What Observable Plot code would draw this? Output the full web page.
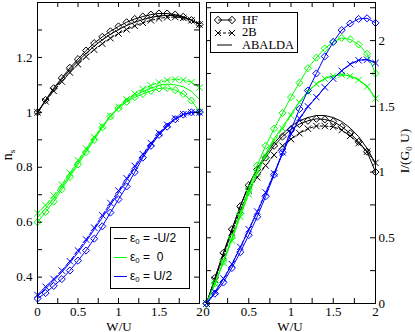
<!DOCTYPE html>
<html><head><meta charset="utf-8">
<script src="https://cdn.jsdelivr.net/npm/d3@7"></script>
<script src="https://cdn.jsdelivr.net/npm/@observablehq/plot@0.6"></script>
<style>
body{margin:0;background:#fff;}
#wrap{position:relative;width:415px;height:332px;overflow:hidden;font-family:"Liberation Serif","Times New Roman",serif;color:#000;}
#wrap svg, #wrap svg text{font-family:"Liberation Serif","Times New Roman",serif !important;font-size:13px !important;}
.abs{position:absolute;white-space:nowrap;line-height:1;}
.abs sub{font-size:65%;vertical-align:-0.3em;line-height:0;}
.sans{font-family:"Liberation Sans",Arial,sans-serif;}
</style></head><body><div id="wrap"></div>
<script>
// W/U grid
const W = [0,0.1,0.2,0.3,0.4,0.5,0.6,0.7,0.8,0.9,1,1.1,1.2,1.3,1.4,1.5,1.6,1.7,1.8,1.9,2];

// Left panel: n_s   (m: eps0=-U/2, 0: eps0=0, p: eps0=U/2)
const nsHF_m = [1.0,1.045,1.088,1.125,1.162,1.194,1.225,1.252,1.275,1.295,1.313,1.328,1.34,1.349,1.356,1.36,1.36,1.356,1.348,1.336,1.32];
const ns2B_m = [1.0,1.04,1.078,1.112,1.145,1.175,1.203,1.228,1.25,1.27,1.287,1.302,1.315,1.326,1.335,1.342,1.346,1.347,1.344,1.335,1.32];
const nsAB_m = [1.0,1.043,1.084,1.12,1.155,1.186,1.215,1.241,1.264,1.284,1.301,1.316,1.328,1.338,1.346,1.351,1.353,1.352,1.347,1.336,1.32];
const nsHF_0 = [0.6,0.637,0.675,0.72,0.765,0.81,0.855,0.9,0.945,0.985,1.015,1.038,1.055,1.067,1.078,1.087,1.089,1.081,1.067,1.043,1.003];
const ns2B_0 = [0.633,0.662,0.697,0.737,0.78,0.825,0.868,0.91,0.95,0.987,1.02,1.047,1.068,1.085,1.098,1.109,1.117,1.12,1.118,1.11,1.09];
const nsAB_0 = [0.617,0.65,0.686,0.728,0.772,0.817,0.861,0.905,0.947,0.986,1.017,1.042,1.061,1.076,1.088,1.098,1.103,1.1,1.093,1.077,1.047];
const nsHF_p = [0.322,0.342,0.368,0.393,0.424,0.46,0.497,0.54,0.585,0.635,0.683,0.73,0.782,0.835,0.878,0.918,0.948,0.975,0.992,1.0,1.0];
const ns2B_p = [0.335,0.365,0.393,0.424,0.458,0.497,0.537,0.58,0.625,0.67,0.715,0.76,0.805,0.848,0.888,0.925,0.955,0.978,0.993,1.0,1.0];
const nsAB_p = [0.33,0.358,0.387,0.418,0.452,0.49,0.53,0.573,0.617,0.662,0.707,0.752,0.797,0.841,0.882,0.92,0.951,0.976,0.992,1.0,1.0];

// Right panel: I/(G0 U)
const iHF_m = [0,0.195,0.385,0.565,0.74,0.9,1.02,1.11,1.2,1.27,1.325,1.365,1.39,1.405,1.4,1.385,1.345,1.295,1.23,1.155,1.0];
const i2B_m = [0,0.18,0.36,0.54,0.71,0.86,0.96,1.05,1.13,1.2,1.25,1.295,1.33,1.35,1.35,1.345,1.32,1.275,1.22,1.155,1.07];
const iAB_m = [0,0.19,0.38,0.56,0.74,0.9,1.03,1.13,1.22,1.29,1.35,1.39,1.415,1.43,1.43,1.415,1.385,1.335,1.27,1.18,1.065];
const iHF_0 = [0,0.155,0.32,0.5,0.685,0.87,1.05,1.2,1.33,1.45,1.57,1.68,1.79,1.87,1.94,1.99,2.02,2.01,1.97,1.9,1.75];
const i2B_0 = [0,0.15,0.31,0.48,0.66,0.83,0.99,1.12,1.24,1.33,1.43,1.53,1.61,1.67,1.71,1.73,1.74,1.73,1.7,1.65,1.56];
const iAB_0 = [0,0.152,0.315,0.49,0.67,0.845,1.01,1.14,1.255,1.345,1.44,1.535,1.615,1.672,1.712,1.733,1.742,1.733,1.703,1.655,1.565];
const iHF_p = [0,0.075,0.16,0.27,0.39,0.52,0.66,0.815,0.98,1.15,1.32,1.48,1.62,1.75,1.88,1.99,2.08,2.13,2.165,2.17,2.135];
const i2B_p = [0,0.09,0.19,0.3,0.43,0.565,0.7,0.845,0.99,1.15,1.29,1.41,1.5,1.57,1.645,1.71,1.77,1.82,1.85,1.855,1.83];
const iAB_p = [0,0.085,0.185,0.295,0.425,0.56,0.695,0.84,0.985,1.14,1.285,1.403,1.495,1.567,1.643,1.712,1.772,1.821,1.851,1.857,1.833];

// ticks
const xLabels = [0,0.5,1,1.5,2];
const xTicks = [0,0.25,0.5,0.75,1,1.25,1.5,1.75,2];
const nsLabels = [0.4,0.6,0.8,1,1.2];
const nsTicks = [0.4,0.5,0.6,0.7,0.8,0.9,1,1.1,1.2,1.3];
const iLabels = [0,0.5,1,1.5,2];
const iTicks = [0,0.25,0.5,0.75,1,1.25,1.5,1.75,2,2.25];

const colors = {m:"#000000", z:"#00ff00", p:"#0000ff"};

function seriesMarks(vals, color, model) {
  const data = W.map((w,i)=>({w, v: vals[i]}));
  const out = [Plot.line(data, {x:"w", y:"v", stroke: color, strokeWidth: 1,
    strokeDasharray: model === "2B" ? "3,2" : null})];
  if (model === "HF") out.push(Plot.dot(data, {x:"w", y:"v", symbol:"diamond2", r:3.2, stroke: color, fill:"none", strokeWidth:1}));
  if (model === "2B") out.push(Plot.dot(data, {x:"w", y:"v", symbol:"times", r:3, stroke: color, strokeWidth:1}));
  return out;
}

function frameTicks(xt, yt, plotW, plotH) {
  const L = 5;
  return [
    Plot.tickX(xt, {x: d=>d, insetTop: plotH - L, stroke:"#000"}),
    Plot.tickX(xt, {x: d=>d, insetBottom: plotH - L, stroke:"#000"}),
    Plot.tickY(yt, {y: d=>d, insetRight: plotW - L, stroke:"#000"}),
    Plot.tickY(yt, {y: d=>d, insetLeft: plotW - L, stroke:"#000"}),
    Plot.frame({stroke:"#000", strokeWidth:1})
  ];
}

const wrap = document.getElementById("wrap");
const baseStyle = {background:"transparent", overflow:"visible"};

// LEFT
const left = Plot.plot({
  width: 205, height: 332, marginLeft: 37, marginRight: 6, marginTop: 2, marginBottom: 29,
  style: baseStyle,
  x: {domain:[0,2]},
  y: {domain:[0.304,1.4]},
  marks: [
    ...seriesMarks(nsAB_m, colors.m, "AB"), ...seriesMarks(ns2B_m, colors.m, "2B"), ...seriesMarks(nsHF_m, colors.m, "HF"),
    ...seriesMarks(nsAB_0, colors.z, "AB"), ...seriesMarks(ns2B_0, colors.z, "2B"), ...seriesMarks(nsHF_0, colors.z, "HF"),
    ...seriesMarks(nsAB_p, colors.p, "AB"), ...seriesMarks(ns2B_p, colors.p, "2B"), ...seriesMarks(nsHF_p, colors.p, "HF"),
    ...frameTicks(xTicks, nsTicks, 162, 301),
    Plot.axisX({ticks: xLabels, tickSize: 0, tickPadding: 3, tickFormat: d=>String(d), label: null}),
    Plot.axisY({ticks: nsLabels, tickSize: 0, tickPadding: 5, tickFormat: d=>String(d), label: null})
  ]
});
left.style.position = "absolute"; left.style.left = "0px"; left.style.top = "0px";
wrap.appendChild(left);

// RIGHT
const right = Plot.plot({
  width: 215, height: 332, marginLeft: 6, marginRight: 40, marginTop: 2, marginBottom: 29,
  style: baseStyle,
  x: {domain:[0,2]},
  y: {domain:[0,2.29]},
  marks: [
    ...seriesMarks(iAB_m, colors.m, "AB"), ...seriesMarks(i2B_m, colors.m, "2B"), ...seriesMarks(iHF_m, colors.m, "HF"),
    ...seriesMarks(iAB_0, colors.z, "AB"), ...seriesMarks(i2B_0, colors.z, "2B"), ...seriesMarks(iHF_0, colors.z, "HF"),
    ...seriesMarks(iAB_p, colors.p, "AB"), ...seriesMarks(i2B_p, colors.p, "2B"), ...seriesMarks(iHF_p, colors.p, "HF"),
    ...frameTicks(xTicks, iTicks, 169, 301),
    Plot.axisX({ticks: xLabels, tickSize: 0, tickPadding: 3, tickFormat: d=>String(d), label: null}),
    Plot.axisY({anchor:"right", ticks: iLabels, tickSize: 0, tickPadding: 3, tickFormat: d=>String(d), label: null})
  ]
});
right.style.position = "absolute"; right.style.left = "200px"; right.style.top = "0px";
wrap.appendChild(right);

// axis titles
function addDiv(html, css, cls) {
  const d = document.createElement("div");
  d.className = "abs" + (cls ? " " + cls : ""); d.innerHTML = html; d.style.cssText += css;
  wrap.appendChild(d); return d;
}
addDiv("W/U", "left:119px;top:326px;transform:translate(-50%,-50%);font-size:13px;");
addDiv("W/U", "left:290px;top:326px;transform:translate(-50%,-50%);font-size:13px;");
addDiv("n<sub>s</sub>", "left:8px;top:155px;transform:translate(-50%,-50%) rotate(-90deg);font-size:14px;");
addDiv("I/(G<sub>0</sub> U)", "left:405px;top:151px;transform:translate(-50%,-50%) rotate(-90deg);font-size:13.5px;");

// left legend
const legL = [
  {label:"ε<sub>0</sub> = -U/2", c: colors.m},
  {label:"ε<sub>0</sub> = &nbsp;0", c: colors.z},
  {label:"ε<sub>0</sub> = U/2", c: colors.p}
];
let lh = '';
legL.forEach((e,i)=>{
  const cy = 10 + i*19;
  lh += `<div style="position:absolute;left:3px;top:${cy}px;width:13px;height:0;border-top:1px solid ${e.c};"></div>`;
  lh += `<div style="position:absolute;left:19px;top:${cy-7}px;line-height:14px;">${e.label}</div>`;
});
addDiv(lh, "left:110px;top:227px;width:78px;height:60px;border:1px solid #000;background:#fff;font-size:12px;", "sans");

// right legend
const legR = [
  {label:"HF", sym:"diamond", dash:null},
  {label:"2B", sym:"times", dash:"3,2"},
  {label:"ABALDA", sym:null, dash:null}
];
let rh = '';
legR.forEach((e,i)=>{
  const cy = 7 + i*12.5;
  let svg = `<svg width="24" height="10" style="position:absolute;left:3px;top:${cy-5}px;overflow:visible">`;
  if (e.sym) {
    svg += `<line x1="4" y1="5" x2="18" y2="5" stroke="#000" ${e.dash?`stroke-dasharray="${e.dash}"`:''}/>`;
    [4,18].forEach(cx=>{
      if (e.sym==="diamond") svg += `<path d="M${cx},1.2L${cx+3.6},5L${cx},8.8L${cx-3.6},5Z" fill="none" stroke="#000"/>`;
      else svg += `<path d="M${cx-3},2L${cx+3},8M${cx-3},8L${cx+3},2" stroke="#000"/>`;
    });
  } else {
    svg += `<line x1="3" y1="5" x2="18" y2="5" stroke="#000"/>`;
  }
  svg += `</svg>`;
  rh += svg + `<div style="position:absolute;left:31px;top:${cy-7.5}px;line-height:15px;">${e.label}</div>`;
});
addDiv(rh, "left:210px;top:12px;width:86px;height:39px;border:1px solid #000;background:#fff;font-size:12.5px;");
</script>
</body></html>
